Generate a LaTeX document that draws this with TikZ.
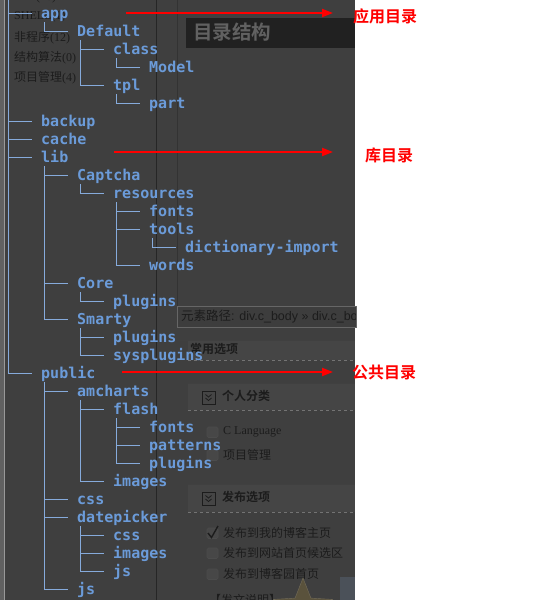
\documentclass[tikz,border=0pt]{standalone}
\usepackage{fontspec}
\setmainfont{Liberation Serif}
\setsansfont{Liberation Sans}
\setmonofont{DejaVu Sans Mono}
\newfontfamily\cjk{Noto Sans CJK SC}[BoldFont={Noto Sans CJK SC Bold}]
\usepackage{xcolor}
\definecolor{pagebg}{HTML}{3F3F3F}
\definecolor{dirblue}{HTML}{6B9BD9}
\definecolor{branchblue}{HTML}{86ABDC}
\definecolor{dimtext}{HTML}{1C1C1C}
\definecolor{bandbg}{HTML}{454545}
\definecolor{markred}{HTML}{FF0000}
\definecolor{fadedstar}{HTML}{5A523C}
\definecolor{fadedtile}{HTML}{4B5159}
\usetikzlibrary{arrows.meta, positioning, calc, shapes.geometric}

\begin{document}
\begin{tikzpicture}[
        x=1pt, y=-1pt,
        dir/.style={anchor=west, inner sep=0pt, minimum height=18pt,
            text height=14pt, text depth=3pt, text=dirblue,
            font=\fontsize{15}{18}\selectfont\ttfamily\bfseries},
        branch/.style={draw=branchblue, line width=1pt},
        pointer/.style={draw=markred, line width=2pt, -{Triangle[length=11pt, width=8pt]}},
        marklabel/.style={anchor=west, inner sep=0pt, text=markred,
            font=\fontsize{16}{18}\selectfont\cjk\bfseries},
        side/.style={anchor=west, inner sep=0pt, text=dimtext,
            font=\fontsize{12}{14}\selectfont},
        panel/.style={anchor=west, inner sep=0pt, text=dimtext,
            font=\fontsize{12}{14}\selectfont\cjk},
        paneltitle/.style={panel, font=\fontsize{12}{14}\selectfont\cjk\bfseries},
        band/.style={fill=bandbg},
        bandrule/.style={draw=black!75, line width=0.8pt},
        banddash/.style={draw=black!55, dashed, line width=0.6pt},
        toggle/.style={draw=dimtext, line width=0.8pt, fill=bandbg},
        tickbox/.style={draw=black!70, fill=black!72, rounded corners=1.5pt, line width=0.6pt}
    ]
    \useasboundingbox (0,0) rectangle (550,600);
    \clip (0,0) rectangle (550,600);

    % Screenshot background
    \fill[pagebg] (0,0) rectangle (355,600);
    \fill[white] (355,0) rectangle (550,600);
    \fill[black!62] (0,0) rectangle (4,600);
    \draw[black!40, line width=1pt] (4.5,0) -- (4.5,600);

    % Header
    \fill[black!87] (186,18) rectangle (355,48);
    \node[anchor=west, inner sep=0pt, text=black!62,
        font=\fontsize{19.5}{22}\selectfont\cjk\bfseries] (title) at (193,32) {目录结构};

    % Sidebar categories
    \node[side] (cat0) at (14,-2) {PHP(16)};
    \node[side] (cat1) at (14,17) {SHELL(1)};
    \node[side] (cat2) at (14,38) {{\cjk 非程序}(12)};
    \node[side] (cat3) at (14,58) {{\cjk 结构算法}(0)};
    \node[side] (cat4) at (14,78) {{\cjk 项目管理}(4)};

    % Element path box
    \draw[draw=black!60, fill=black!76] (177,306) rectangle (356,327);
    \begin{scope}
        \clip (177,306) rectangle (355,327);
        \node[anchor=west, inner sep=0pt, text=dimtext,
            font=\fontsize{12.5}{14}\selectfont\sffamily] (path) at (181,317) {{\cjk 元素路径}: div.c\_body » div.c\_bo};
    \end{scope}

    % Option bands
    \fill[band] (188,340) rectangle (355,360);
    \draw[bandrule] (177,340) -- (355,340);
    \draw[banddash] (188,360) -- (355,360);
    \node[paneltitle] (common) at (190,349) {常用选项};

    \foreach \top/\bot/\name/\label in {383/410/own/个人分类, 484/512/publish/发布选项} {
        \fill[band] (188,\top) rectangle (355,\bot);
        \draw[bandrule] (188,\top) -- (355,\top);
        \draw[banddash] (188,\bot) -- (355,\bot);
        \draw[toggle] (202,\top+8) rectangle (215,\top+21);
        \draw[dimtext, line width=0.8pt] (205.5,\top+11.5) -- (208.5,\top+14) -- (211.5,\top+11.5)
            (205.5,\top+15) -- (208.5,\top+17.5) -- (211.5,\top+15);
        \node[paneltitle] (\name) at (222,\top+13) {\label};
    }

    % Check boxes
    \foreach \y/\name/\label in {432/optc/{\rmfamily C Language}, 455/optpm/项目管理,
            533/opthome/发布到我的博客主页, 553/optsite/发布到网站首页候选区, 574/optpark/发布到博客园首页} {
        \draw[tickbox] (207,\y-5) rectangle (218,\y+5.5);
        \node[panel] (\name) at (223,\y) {\label};
    }
    \draw[dimtext, line width=1.4pt] (208,533) -- (211.5,537.5) -- (218,526);
    \node[panel] (notes) at (209,600) {【发文说明】};
    \node[star, star points=5, star point ratio=2.3, minimum size=62pt, inner sep=0pt,
        fill=fadedstar, draw=fadedstar!85!white] (badge) at (303,609) {};
    \fill[fadedtile] (340,577) rectangle (355,600);

    % Panel borders
    \draw[black!85, line width=1pt] (156,0) -- (156,600);
    \draw[black!80, line width=0.8pt] (177,0) -- (177,306);

    % Directory tree
    \node[inner sep=0pt, minimum size=0pt] (root) at (8,0) {};
    \foreach \i/\k/\name in {0/0/app, 1/1/Default, 2/2/class, 3/3/Model, 4/2/tpl, 5/3/part,
            6/0/backup, 7/0/cache, 8/0/lib, 9/1/Captcha, 10/2/resources, 11/3/fonts, 12/3/tools,
            13/4/dictionary-import, 14/3/words, 15/1/Core, 16/2/plugins, 17/1/Smarty, 18/2/plugins,
            19/2/sysplugins, 20/0/public, 21/1/amcharts, 22/2/flash, 23/3/fonts, 24/3/patterns,
            25/3/plugins, 26/2/images, 27/1/css, 28/1/datepicker, 29/2/css, 30/2/images, 31/2/js, 32/1/js} {
        \node[dir] (n\i) at (41+36*\k, 13+18*\i) {\name};
    }
    \foreach \c/\p in {0/root, 1/n0, 2/n1, 3/n2, 4/n1, 5/n4, 6/root, 7/root, 8/root, 9/n8, 10/n9,
            11/n10, 12/n10, 13/n12, 14/n10, 15/n8, 16/n15, 17/n8, 18/n17, 19/n17, 20/root, 21/n20,
            22/n21, 23/n22, 24/n22, 25/n22, 26/n21, 27/n20, 28/n20, 29/n28, 30/n28, 31/n28, 32/n20} {
        \draw[branch] ([xshift=-33pt]n\c.west |- \p.south) |- ([xshift=-9pt]n\c.west);
    }

    % Markers
    \node[marklabel] (lblapp) at (353,16) {应用目录};
    \node[marklabel] (lbllib) at (365,155) {库目录};
    \node[marklabel] (lblpub) at (352,373) {公共目录};
    \coordinate (tailapp) at (126,13);
    \coordinate (taillib) at (114,152);
    \coordinate (tailpub) at (122,372);
    \draw[pointer] (tailapp) -- (tailapp -| 333,0);
    \draw[pointer] (taillib) -- (taillib -| 333,0);
    \draw[pointer] (tailpub) -- (tailpub -| 333,0);

\end{tikzpicture}
\end{document}
